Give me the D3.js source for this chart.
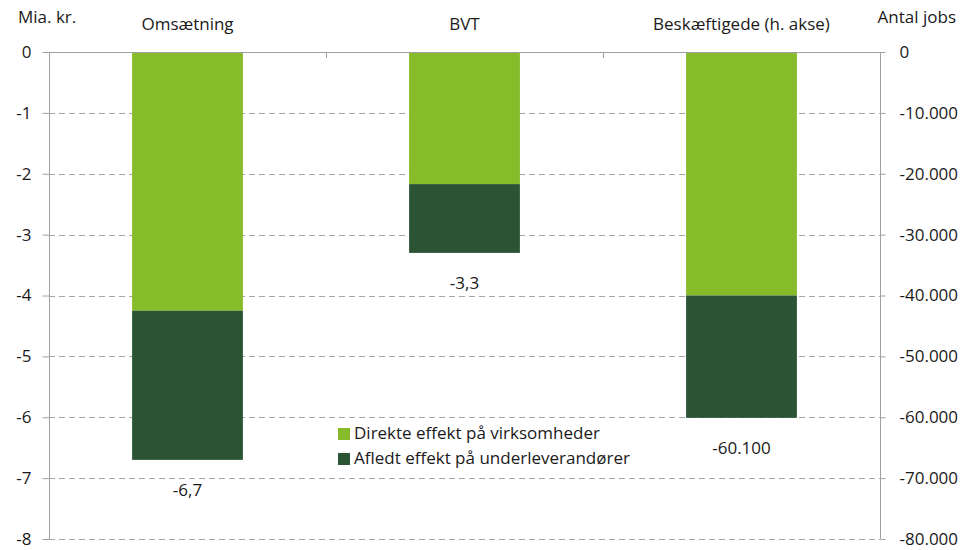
<!DOCTYPE html>
<html>
<head>
<meta charset="utf-8">
<script src="https://cdn.jsdelivr.net/npm/d3@7"></script>
<style>
  body { margin: 0; background: #fff; }
  svg text { font-family: "Open Sans", "Noto Sans", sans-serif; fill: #1a1a1a; }
</style>
</head>
<body>
<svg id="chart"></svg>
<script>
// Omsætning, BVT og beskæftigelse – direkte og afledt effekt
const categories = ['Omsætning', 'BVT', 'Beskæftigede (h. akse)'];
const onRightAxis = [false, false, true];
const direkte = [-4.25, -2.17, -40000];
const afledt = [-2.45, -1.13, -20100];
const seriesNames = ['Direkte effekt på virksomheder', 'Afledt effekt på underleverandører'];
const leftTicks = [0, -1, -2, -3, -4, -5, -6, -7, -8];
const rightTicks = [0, -10000, -20000, -30000, -40000, -50000, -60000, -70000, -80000];

const colors = ['#86bc29', '#2b5435'];
const width = 971, height = 550;
const margin = { top: 52, right: 91, bottom: 11, left: 49 };
const fontSize = '17px';

const dk = d3.formatLocale({ decimal: ',', thousands: '.', grouping: [3], currency: ['', ' kr.'], minus: '-' });
const fmtLeft = dk.format(',.1f');
const fmtRight = dk.format(',.0f');

const svg = d3.select('#chart').attr('width', width).attr('height', height);

const x = d3.scaleBand()
    .domain(categories)
    .range([margin.left, width - margin.right]);
const barW = x.bandwidth() * 0.4;

const yLeft = d3.scaleLinear().domain([-8, 0]).range([height - margin.bottom, margin.top]);
const yRight = d3.scaleLinear().domain([-80000, 0]).range([height - margin.bottom, margin.top]);
const yFor = i => onRightAxis[i] ? yRight : yLeft;

// grid lines (dashed)
svg.append('g')
    .selectAll('line')
    .data(leftTicks.filter(t => t !== 0))
    .join('line')
    .attr('x1', margin.left)
    .attr('x2', width - margin.right)
    .attr('y1', d => Math.round(yLeft(d)) + 0.5)
    .attr('y2', d => Math.round(yLeft(d)) + 0.5)
    .attr('stroke', '#a6a6a6')
    .attr('stroke-width', 1)
    .attr('stroke-dasharray', '6,4');

// stacked bars
const rows = categories.map((c, i) => ({ cat: c, i: i, parts: [direkte[i], afledt[i]] }));
rows.forEach(r => {
    const y = yFor(r.i);
    let base = 0;
    r.parts.forEach((v, k) => {
        const top = base, bot = base + v;
        svg.append('rect')
            .attr('x', x(r.cat) + (x.bandwidth() - barW) / 2)
            .attr('y', y(top))
            .attr('width', barW)
            .attr('height', y(bot) - y(top))
            .attr('fill', colors[k]);
        base = bot;
    });
    // total label under bar
    svg.append('text')
        .attr('x', x(r.cat) + x.bandwidth() / 2)
        .attr('y', y(base) + 32)
        .attr('text-anchor', 'middle')
        .attr('dominant-baseline', 'middle')
        .style('font-size', fontSize)
        .text(onRightAxis[r.i] ? fmtRight(base) : fmtLeft(base));
});

// left axis
const axL = svg.append('g')
    .attr('transform', `translate(${margin.left + 0.5},0)`)
    .call(d3.axisLeft(yLeft).tickValues(leftTicks).tickSize(7).tickPadding(11).tickFormat(d => fmtRight(d)));
// right axis
const axR = svg.append('g')
    .attr('transform', `translate(${width - margin.right + 0.5},0)`)
    .call(d3.axisRight(yRight).tickValues(rightTicks).tickSize(5).tickPadding(14).tickFormat(d => fmtRight(d)));
[axL, axR].forEach(ax => {
    ax.select('.domain').attr('stroke', '#a0a0a0');
    ax.selectAll('.tick line').attr('stroke', '#a0a0a0');
    ax.selectAll('.tick text').style('font-size', fontSize).attr('fill', '#1a1a1a');
});
axL.select('.domain').attr('d', `M0,${margin.top}V${height - margin.bottom}`);
axR.select('.domain').attr('d', `M0,${margin.top}V${height - margin.bottom}`);

// top axis line with category separators
svg.append('line')
    .attr('x1', margin.left).attr('x2', width - margin.right)
    .attr('y1', yLeft(0) + 0.5).attr('y2', yLeft(0) + 0.5)
    .attr('stroke', '#a0a0a0');
svg.append('g')
    .selectAll('line')
    .data(categories.slice(1))
    .join('line')
    .attr('x1', d => Math.round(x(d)) + 0.5)
    .attr('x2', d => Math.round(x(d)) + 0.5)
    .attr('y1', yLeft(0))
    .attr('y2', yLeft(0) + 6)
    .attr('stroke', '#a0a0a0');

// category labels on top
svg.append('g')
    .selectAll('text')
    .data(categories)
    .join('text')
    .attr('x', d => x(d) + x.bandwidth() / 2)
    .attr('y', 25)
    .attr('text-anchor', 'middle')
    .attr('dominant-baseline', 'middle')
    .style('font-size', fontSize)
    .text(d => d);

// axis titles
svg.append('text').attr('x', 18).attr('y', 18)
    .attr('dominant-baseline', 'middle').style('font-size', fontSize).text('Mia. kr.');
svg.append('text').attr('x', 956).attr('y', 18).attr('text-anchor', 'end')
    .attr('dominant-baseline', 'middle').style('font-size', fontSize).text('Antal jobs');

// legend
const legend = svg.append('g').attr('transform', 'translate(338,434)');
seriesNames.forEach((name, k) => {
    const item = legend.append('g').attr('transform', `translate(0,${k * 25})`);
    item.append('rect').attr('x', 0).attr('y', -6).attr('width', 12).attr('height', 12).attr('fill', colors[k]);
    item.append('text').attr('x', 16).attr('y', 0).attr('dominant-baseline', 'middle')
        .style('font-size', fontSize).text(name);
});
</script>
</body>
</html>
